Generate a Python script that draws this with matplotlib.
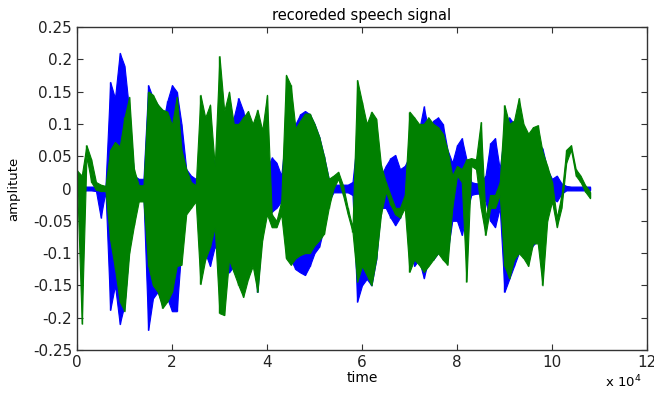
import numpy as np
import matplotlib
matplotlib.use("Agg")
import matplotlib.pyplot as plt

plt.rcParams['font.family'] = ['DejaVu Sans']

# envelope of each recording, one value per 1000 samples (0 .. 108000)
step = 1000
blue_hi = [0.004, 0.004, 0.003, 0.003, 0.003, 0.003, 0.004, 0.165, 0.14, 0.21,
           0.19, 0.12, 0.02, 0.015, 0.015, 0.16, 0.14, 0.13, 0.10, 0.135,
           0.16, 0.15, 0.10, 0.03, 0.02, 0.015, 0.02, 0.03, 0.06, 0.04,
           0.06, 0.05, 0.09, 0.11, 0.14, 0.12, 0.08, 0.07, 0.06, 0.05,
           0.03, 0.048, 0.04, 0.02, 0.09, 0.10, 0.10, 0.115, 0.12, 0.115,
           0.10, 0.08, 0.05, 0.015, 0.006, 0.006, 0.006, 0.006, 0.01, 0.08,
           0.07, 0.06, 0.05, 0.04, 0.02, 0.035, 0.047, 0.052, 0.03, 0.035,
           0.05, 0.08, 0.09, 0.127, 0.09, 0.105, 0.11, 0.10, 0.06, 0.04,
           0.067, 0.078, 0.045, 0.01, 0.008, 0.008, 0.02, 0.07, 0.078, 0.03,
           0.09, 0.11, 0.10, 0.08, 0.07, 0.075, 0.08, 0.07, 0.062, 0.03,
           0.015, 0.02, 0.008, 0.004, 0.003, 0.003, 0.003, 0.003, 0.003]
blue_lo = [-0.004, -0.004, -0.003, -0.003, -0.004, -0.045, -0.004, -0.188, -0.15, -0.21,
           -0.18, -0.09, -0.02, -0.015, -0.015, -0.219, -0.17, -0.16, -0.18, -0.17,
           -0.19, -0.19, -0.09, -0.03, -0.02, -0.02, -0.03, -0.10, -0.12, -0.09,
           -0.10, -0.12, -0.13, -0.12, -0.11, -0.12, -0.08, -0.10, -0.16, -0.06,
           -0.03, -0.036, -0.03, -0.02, -0.08, -0.11, -0.125, -0.13, -0.134, -0.12,
           -0.10, -0.09, -0.06, -0.02, -0.006, -0.006, -0.006, -0.006, -0.01, -0.175,
           -0.15, -0.14, -0.15, -0.11, -0.03, -0.03, -0.045, -0.057, -0.045, -0.02,
           -0.07, -0.12, -0.11, -0.139, -0.11, -0.11, -0.10, -0.10, -0.10, -0.05,
           -0.05, -0.072, -0.04, -0.01, -0.008, -0.008, -0.02, -0.05, -0.06, -0.03,
           -0.16, -0.14, -0.12, -0.10, -0.10, -0.10, -0.088, -0.08, -0.07, -0.03,
           -0.015, -0.02, -0.008, -0.003, -0.003, -0.003, -0.003, -0.003, -0.003]
green_hi = [0.028, 0.02, 0.067, 0.045, 0.01, 0.006, 0.004, 0.06, 0.072, 0.065,
            0.11, 0.142, 0.03, 0.005, 0.005, 0.15, 0.145, 0.13, 0.122, 0.119,
            0.098, 0.142, 0.06, 0.03, 0.01, 0.005, 0.145, 0.11, 0.13, 0.035,
            0.205, 0.12, 0.15, 0.10, 0.10, 0.11, 0.12, 0.10, 0.122, 0.09,
            0.145, -0.04, -0.05, -0.02, 0.176, 0.16, 0.093, 0.105, 0.116, 0.116,
            0.10, 0.08, 0.05, 0.015, 0.02, 0.026, 0.005, -0.03, -0.06, 0.168,
            0.134, 0.10, 0.119, 0.108, 0.036, 0.01, -0.01, -0.03, -0.03, -0.01,
            0.119, 0.11, 0.10, 0.10, 0.11, 0.10, 0.095, 0.085, 0.06, 0.02,
            0.035, 0.03, 0.045, 0.047, 0.045, 0.103, -0.045, -0.01, -0.01, 0.01,
            0.129, 0.10, 0.105, 0.14, 0.10, 0.085, 0.095, 0.098, 0.057, 0.035,
            0.01, -0.045, -0.01, 0.06, 0.067, 0.03, 0.02, 0.005, -0.005]
green_lo = [0.014, -0.209, 0.05, 0.01, -0.002, -0.004, -0.004, -0.08, -0.124, -0.175,
            -0.19, -0.10, -0.057, -0.02, -0.02, -0.12, -0.15, -0.16, -0.185, -0.175,
            -0.16, -0.12, -0.118, -0.04, -0.03, -0.02, -0.148, -0.11, -0.09, -0.06,
            -0.193, -0.196, -0.11, -0.13, -0.15, -0.168, -0.14, -0.12, -0.16, -0.08,
            -0.04, -0.06, -0.06, -0.04, -0.108, -0.118, -0.108, -0.103, -0.10, -0.10,
            -0.088, -0.08, -0.07, -0.03, 0.0, 0.015, -0.01, -0.04, -0.067, -0.144,
            -0.12, -0.134, -0.15, -0.108, -0.04, -0.005, -0.025, -0.04, -0.045, -0.03,
            -0.129, -0.11, -0.118, -0.129, -0.12, -0.11, -0.10, -0.11, -0.118, -0.03,
            0.02, 0.01, -0.144, 0.035, 0.03, -0.03, -0.072, -0.03, -0.03, -0.01,
            -0.12, -0.139, -0.11, -0.10, -0.108, -0.12, -0.085, -0.085, -0.15, -0.05,
            -0.02, -0.06, -0.03, 0.04, 0.06, 0.02, 0.01, -0.005, -0.015]

xticks = [0, 20000, 40000, 60000, 80000, 100000, 120000]
xticklabels = ['0', '2', '4', '6', '8', '10', '12']
yticks = [-0.25, -0.2, -0.15, -0.1, -0.05, 0, 0.05, 0.1, 0.15, 0.2, 0.25]
yticklabels = ['-0.25', '-0.2', '-0.15', '-0.1', '-0.05', '0',
               '0.05', '0.1', '0.15', '0.2', '0.25']


def draw_signal(ax, hi, lo, color, z):
    t = np.arange(len(hi)) * step
    ax.fill_between(t, lo, hi, facecolor=color, edgecolor=color,
                    linewidth=0.8, zorder=z)
    # one stroke per sample block gives the spiky waveform look
    ax.vlines(t, lo, hi, color=color, linewidth=1.0, zorder=z + 0.1)


fig = plt.figure(figsize=(6.54, 3.93), dpi=100)
ax = fig.add_axes([0.1177, 0.1094, 0.8716, 0.8219])

draw_signal(ax, blue_hi, blue_lo, (0, 0, 1), 2)
draw_signal(ax, green_hi, green_lo, (0, 0.5, 0), 3)

ax.set_xlim(0, 120000)
ax.set_ylim(-0.25, 0.25)
ax.set_xticks(xticks)
ax.set_xticklabels(xticklabels)
ax.set_yticks(yticks)
ax.set_yticklabels(yticklabels)
ax.tick_params(direction='in', length=4, labelsize=11, top=True, right=True,
               color='#333333', labelcolor='#222222')
for s in ax.spines.values():
    s.set_color('#333333')
    s.set_linewidth(1.0)
    s.set_zorder(5)

ax.set_title('recoreded speech signal', fontsize=10.5, pad=5)
ax.set_xlabel('time', fontsize=10, labelpad=1)
ax.set_ylabel('amplitute', fontsize=9.5)
ax.yaxis.set_label_coords(-0.1, 0.5)
fig.text(0.925, 0.015, r'x 10$^4$', fontsize=9.5)

fig.savefig('out.png', dpi=100)
